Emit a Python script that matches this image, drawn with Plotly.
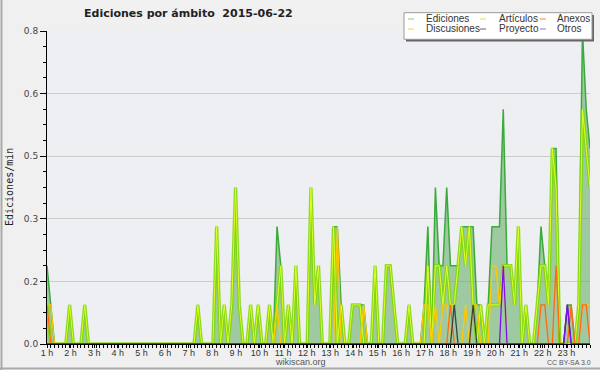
import plotly.graph_objects as go

# 10-minute bins, index 0..144
ediciones = [
 .2,.1,0,0,0,0,.1,0,0,0,.1,0,
 0,0,0,0,0,0,0,0,0,0,0,0,
 0,0,0,0,0,0,0,0,0,0,0,0,
 0,0,0,0,.1,0,0,0,0,.3,0,.1,
 0,.1,.4,.1,0,0,.1,0,.1,0,0,.1,
 0,.3,.2,0,.1,0,.2,0,0,0,.4,.1,
 .2,0,0,0,.3,.3,.1,0,0,.1,.1,.1,
 .1,0,0,.2,0,0,.2,.2,.1,0,0,0,
 .1,0,0,0,.1,.3,0,.4,.2,.2,.4,.2,
 .2,.2,.3,.3,.3,.3,.1,.1,0,.1,.3,.3,
 .3,.6,.2,.2,.1,.3,0,.1,0,0,.1,.3,
 .2,.1,.5,.5,0,0,.1,.1,0,.1,.8,.6,
 .5]
articulos = [
 .1,0,0,0,0,0,.1,0,0,0,.1,0,
 0,0,0,0,0,0,0,0,0,0,0,0,
 0,0,0,0,0,0,0,0,0,0,0,0,
 0,0,0,0,.1,0,0,0,0,.3,0,.1,
 0,.1,.4,.1,0,0,.1,0,.1,0,0,.1,
 0,.1,.2,0,.1,0,.2,0,0,0,.4,.1,
 .2,0,0,0,.3,0,.1,0,0,.1,.1,.1,
 0,0,0,.2,0,0,.2,.2,.1,0,0,0,
 .1,0,0,0,0,.2,0,.2,.2,.1,.2,.1,
 .1,.2,.3,.2,.3,.1,0,.1,0,.1,.1,.1,
 .1,.2,.2,.2,.1,.3,0,.1,0,0,.1,.2,
 .2,.1,.5,.4,0,0,0,0,0,.1,.6,.5,
 .4]
discusiones = [
 .1,.1,0,0,0,0,0,0,0,0,0,0,
 0,0,0,0,0,0,0,0,0,0,0,0,
 0,0,0,0,0,0,0,0,0,0,0,0,
 0,0,0,0,0,0,0,0,0,0,0,0,
 0,0,0,0,0,0,0,0,0,0,0,0,
 0,.1,0,0,0,0,0,0,0,0,0,0,
 0,0,0,0,0,.3,0,0,0,0,0,0,
 .1,0,0,0,0,0,0,0,0,0,0,0,
 0,0,0,0,.1,.1,0,.1,0,.1,.1,0,
 0,0,0,.1,0,.1,.1,0,0,0,.2,.2,
 .1,.2,0,0,0,0,0,0,0,0,0,0,
 0,0,0,0,0,0,0,0,0,0,.1,.1,
 .1]
anexos = [
 .1,0,0,0,0,0,0,0,0,0,0,0,
 0,0,0,0,0,0,0,0,0,0,0,0,
 0,0,0,0,0,0,0,0,0,0,0,0,
 0,0,0,0,0,0,0,0,0,0,0,0,
 0,0,0,0,0,0,0,0,0,0,0,0,
 0,0,0,0,0,0,0,0,0,0,0,0,
 0,0,0,0,0,0,0,0,0,0,0,0,
 0,0,0,0,0,0,0,0,0,0,0,0,
 0,0,0,0,0,0,0,0,0,0,0,.1,
 0,0,0,0,0,0,0,0,0,0,0,0,
 0,0,0,0,0,0,0,0,0,0,0,.1,
 .1,0,0,.2,0,0,0,.1,0,0,.1,.1,
 0]
proyecto = [
 0,0,0,0,0,0,0,0,0,0,0,0,
 0,0,0,0,0,0,0,0,0,0,0,0,
 0,0,0,0,0,0,0,0,0,0,0,0,
 0,0,0,0,0,0,0,0,0,0,0,0,
 0,0,0,0,0,0,0,0,0,0,0,0,
 0,0,0,0,0,0,0,0,0,0,0,0,
 0,0,0,0,0,0,0,0,0,0,0,0,
 0,0,0,0,0,0,0,0,0,0,0,0,
 0,0,0,0,0,0,0,0,0,0,0,0,
 .1,0,0,0,0,.1,0,0,0,0,0,0,
 0,0,0,0,0,0,0,0,0,0,0,0,
 0,0,0,0,0,0,.1,0,0,0,0,0,
 0]
otros = [
 0,0,0,0,0,0,0,0,0,0,0,0,
 0,0,0,0,0,0,0,0,0,0,0,0,
 0,0,0,0,0,0,0,0,0,0,0,0,
 0,0,0,0,0,0,0,0,0,0,0,0,
 0,0,0,0,0,0,0,0,0,0,0,0,
 0,0,0,0,0,0,0,0,0,0,0,0,
 0,0,0,0,0,0,0,0,0,0,0,0,
 0,0,0,0,0,0,0,0,0,0,0,0,
 0,0,0,0,0,0,0,0,0,0,0,0,
 0,0,0,0,0,0,0,0,0,0,0,0,
 0,.2,0,0,0,0,0,0,0,0,0,0,
 0,0,0,0,0,0,.1,0,0,0,0,0,
 0]
hour_labels = ["%d h" % h for h in range(1, 24)]
y_tick_vals = [0, 0.16, 0.32, 0.48, 0.64, 0.8]
y_tick_text = ["0.0", "0.2", "0.3", "0.5", "0.6", "0.8"]

x = list(range(len(ediciones)))
label_pos = [k * 144 / 23 for k in range(len(hour_labels))]

W, H = 600, 370
ML, MR, MT, MB = 47, 10, 31, 26
PW, PH = W - ML - MR, H - MT - MB
def px(xp): return (xp - ML) / PW
def py(yp): return (H - MB - yp) / PH

fig = go.Figure()
fig.add_trace(go.Scatter(x=x, y=ediciones, mode="lines", fill="tozeroy",
    fillcolor="rgba(80,165,80,0.5)", line=dict(color="#3aaa3a", width=1.5),
    name="Ediciones", showlegend=False))
fig.add_trace(go.Scatter(x=x, y=articulos, mode="lines",
    line=dict(color="rgba(125,215,0,0.8)", width=3.4), name="Artículos", showlegend=False))
fig.add_trace(go.Scatter(x=x, y=articulos, mode="lines",
    line=dict(color="#e0ff22", width=1), name="Artículos", showlegend=False, hoverinfo="skip"))
fig.add_trace(go.Scatter(x=x, y=discusiones, mode="lines",
    line=dict(color="#ffc800", width=1.3), name="Discusiones", showlegend=False))
fig.add_trace(go.Scatter(x=x, y=anexos, mode="lines",
    line=dict(color="#ff6a10", width=1.3), name="Anexos", showlegend=False))
fig.add_trace(go.Scatter(x=x, y=proyecto, mode="lines",
    line=dict(color="#404040", width=1.3), name="Proyecto", showlegend=False))
fig.add_trace(go.Scatter(x=x, y=otros, mode="lines",
    line=dict(color="#7a10f0", width=1.3), name="Otros", showlegend=False))

shapes = []
ann = []
# outer border lines
shapes.append(dict(type="line", xref="paper", yref="paper", x0=px(1.5), x1=px(1.5), y0=py(0), y1=py(370), line=dict(color="#aaaaaa", width=2), layer="above"))
shapes.append(dict(type="line", xref="paper", yref="paper", x0=px(0), x1=px(600), y0=py(368.5), y1=py(368.5), line=dict(color="#aaaaaa", width=2), layer="above"))
# legend box with shadow
shapes.append(dict(type="rect", xref="paper", yref="paper", x0=px(406), x1=px(594), y0=py(15), y1=py(41.5), fillcolor="#666666", line=dict(width=0), layer="above"))
shapes.append(dict(type="rect", xref="paper", yref="paper", x0=px(404), x1=px(592), y0=py(12.7), y1=py(39.3), fillcolor="white", line=dict(color="#999999", width=1), layer="above"))
legend_items = [
    ("Ediciones", "#88cc88", 408, 424, 19),
    ("Artículos", "#ccee55", 480, 496.5, 19),
    ("Anexos", "#ee8855", 540, 555, 19),
    ("Discusiones", "#ffd040", 408, 424, 29),
    ("Proyecto", "#666666", 480, 496.5, 29),
    ("Otros", "#aa66ee", 540, 555, 29),
]
for name, col, sx, tx, yy in legend_items:
    shapes.append(dict(type="line", xref="paper", yref="paper", x0=px(sx), x1=px(sx + 6), y0=py(yy), y1=py(yy), line=dict(color=col, width=1), layer="above"))
    ann.append(dict(text=name, xref="paper", yref="paper", x=px(tx), y=py(yy), xanchor="left", yanchor="middle", showarrow=False, font=dict(family="Liberation Sans", size=10, color="#333333")))

ann.append(dict(text="Ediciones por ámbito \u00a02015-06-22", xref="paper", yref="paper", x=px(188.5), y=py(13.5), xanchor="center", yanchor="middle", showarrow=False, font=dict(family="DejaVu Sans", size=11, color="#222222", weight="bold")))
ann.append(dict(text="Ediciones/min", xref="paper", yref="paper", x=px(9.5), y=py(187.5), xanchor="center", yanchor="middle", textangle=-90, showarrow=False, font=dict(family="DejaVu Sans Mono", size=10, color="#222222")))
ann.append(dict(text="wikiscan.org", xref="paper", yref="paper", x=px(300.5), y=py(362), xanchor="center", yanchor="middle", showarrow=False, font=dict(family="Liberation Sans", size=9, color="#555555")))
ann.append(dict(text="CC BY-SA 3.0", xref="paper", yref="paper", x=px(569), y=py(362.5), xanchor="center", yanchor="middle", showarrow=False, font=dict(family="Liberation Sans", size=7, color="#555555")))

fig.update_layout(
    width=W, height=H, margin=dict(l=ML, r=MR, t=MT, b=MB),
    paper_bgcolor="#f0f0f0", plot_bgcolor="#eeeff2",
    shapes=shapes, annotations=ann, showlegend=False,
    xaxis=dict(range=[0, 144], tickmode="array", tickvals=label_pos, ticktext=hour_labels,
               ticks="outside", ticklen=3, tickcolor="black", showline=True, linecolor="black",
               linewidth=1, showgrid=False, zeroline=False, ticklabelstandoff=-3,
               minor=dict(dtick=1, tick0=0, ticks="outside", ticklen=3, tickcolor="black", showgrid=False),
               tickfont=dict(family="Liberation Sans", size=9, color="#333333")),
    yaxis=dict(range=[0, 0.8], tickmode="array", tickvals=y_tick_vals, ticktext=y_tick_text,
               ticks="outside", ticklen=6, tickcolor="black", showline=True, linecolor="black",
               linewidth=1, showgrid=True, gridcolor="#cccccc", gridwidth=1, zeroline=False,
               minor=dict(dtick=0.04, tick0=0, ticks="outside", ticklen=3, tickcolor="black", showgrid=False),
               tickfont=dict(family="DejaVu Sans", size=9, color="#444444")),
)
fig.write_html("out.html", config={"displayModeBar": False},
               post_script="document.body.style.margin='0';document.body.style.overflow='hidden';")
